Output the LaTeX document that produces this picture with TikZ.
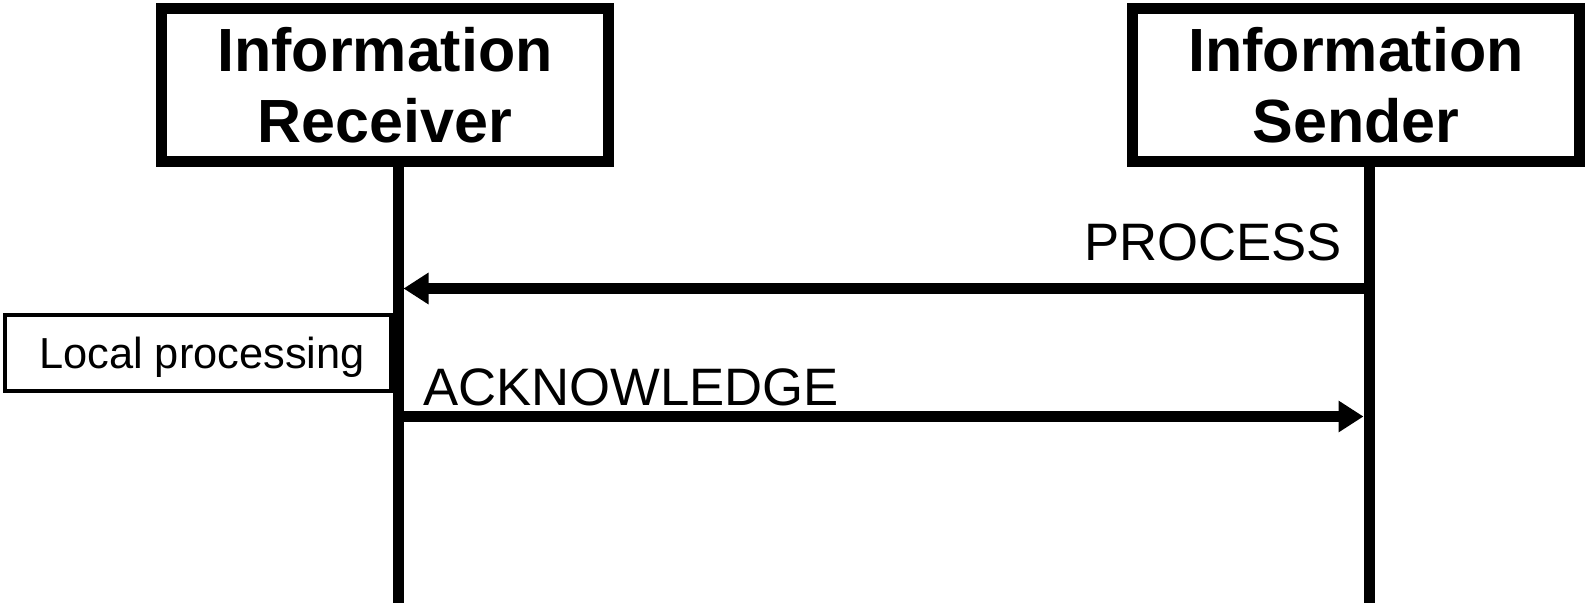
\documentclass[tikz,border=0pt]{standalone}
\usepackage{fontspec}
\setmainfont{Liberation Sans}
\usetikzlibrary{arrows.meta}
\begin{document}
\begin{tikzpicture}[x=1pt,y=-1pt,
  actor/.style={draw, line width=11pt, minimum width=447pt, minimum height=153pt,
    inner sep=0pt, align=center, font=\fontsize{61}{71}\selectfont\bfseries},
  lifeline/.style={line width=11pt},
  msg/.style={line width=11pt, -{Triangle[length=25pt,width=30pt]}},
  msglabel/.style={inner sep=0pt, font=\fontsize{52.7}{60}\selectfont},
  localbox/.style={draw, line width=4pt, minimum width=386pt, minimum height=76pt,
    inner sep=0pt, text depth=0pt, font=\fontsize{43.4}{50}\selectfont}]
\useasboundingbox (0,0) rectangle (1589,603);
% actors
\node[actor] (recv) at (385,85) {Information\\Receiver};
\node[actor] (send) at (1356,85) {Information\\Sender};
% lifelines
\coordinate (rtop) at (398,161.5);
\coordinate (rbot) at (398,603);
\coordinate (stop) at (1369,161.5);
\coordinate (sbot) at (1369,603);
\draw[lifeline] (rtop) -- (rbot);
\draw[lifeline] (stop) -- (sbot);
% local processing
\node[localbox] (local) at (198,353) {\hspace*{8pt}Local processing};
% messages
\coordinate (p1) at (1369,288.5);
\coordinate (p2) at (403.5,288.5);
\draw[msg] (p1) -- (p2);
\node[msglabel, anchor=base east] (plabel) at (1342,260) {PROCESS};
\coordinate (a1) at (398,416.5);
\coordinate (a2) at (1363.5,416.5);
\draw[msg] (a1) -- (a2);
\node[msglabel, anchor=base west] (alabel) at (423,405) {ACKNOWLEDGE};
\end{tikzpicture}
\end{document}
